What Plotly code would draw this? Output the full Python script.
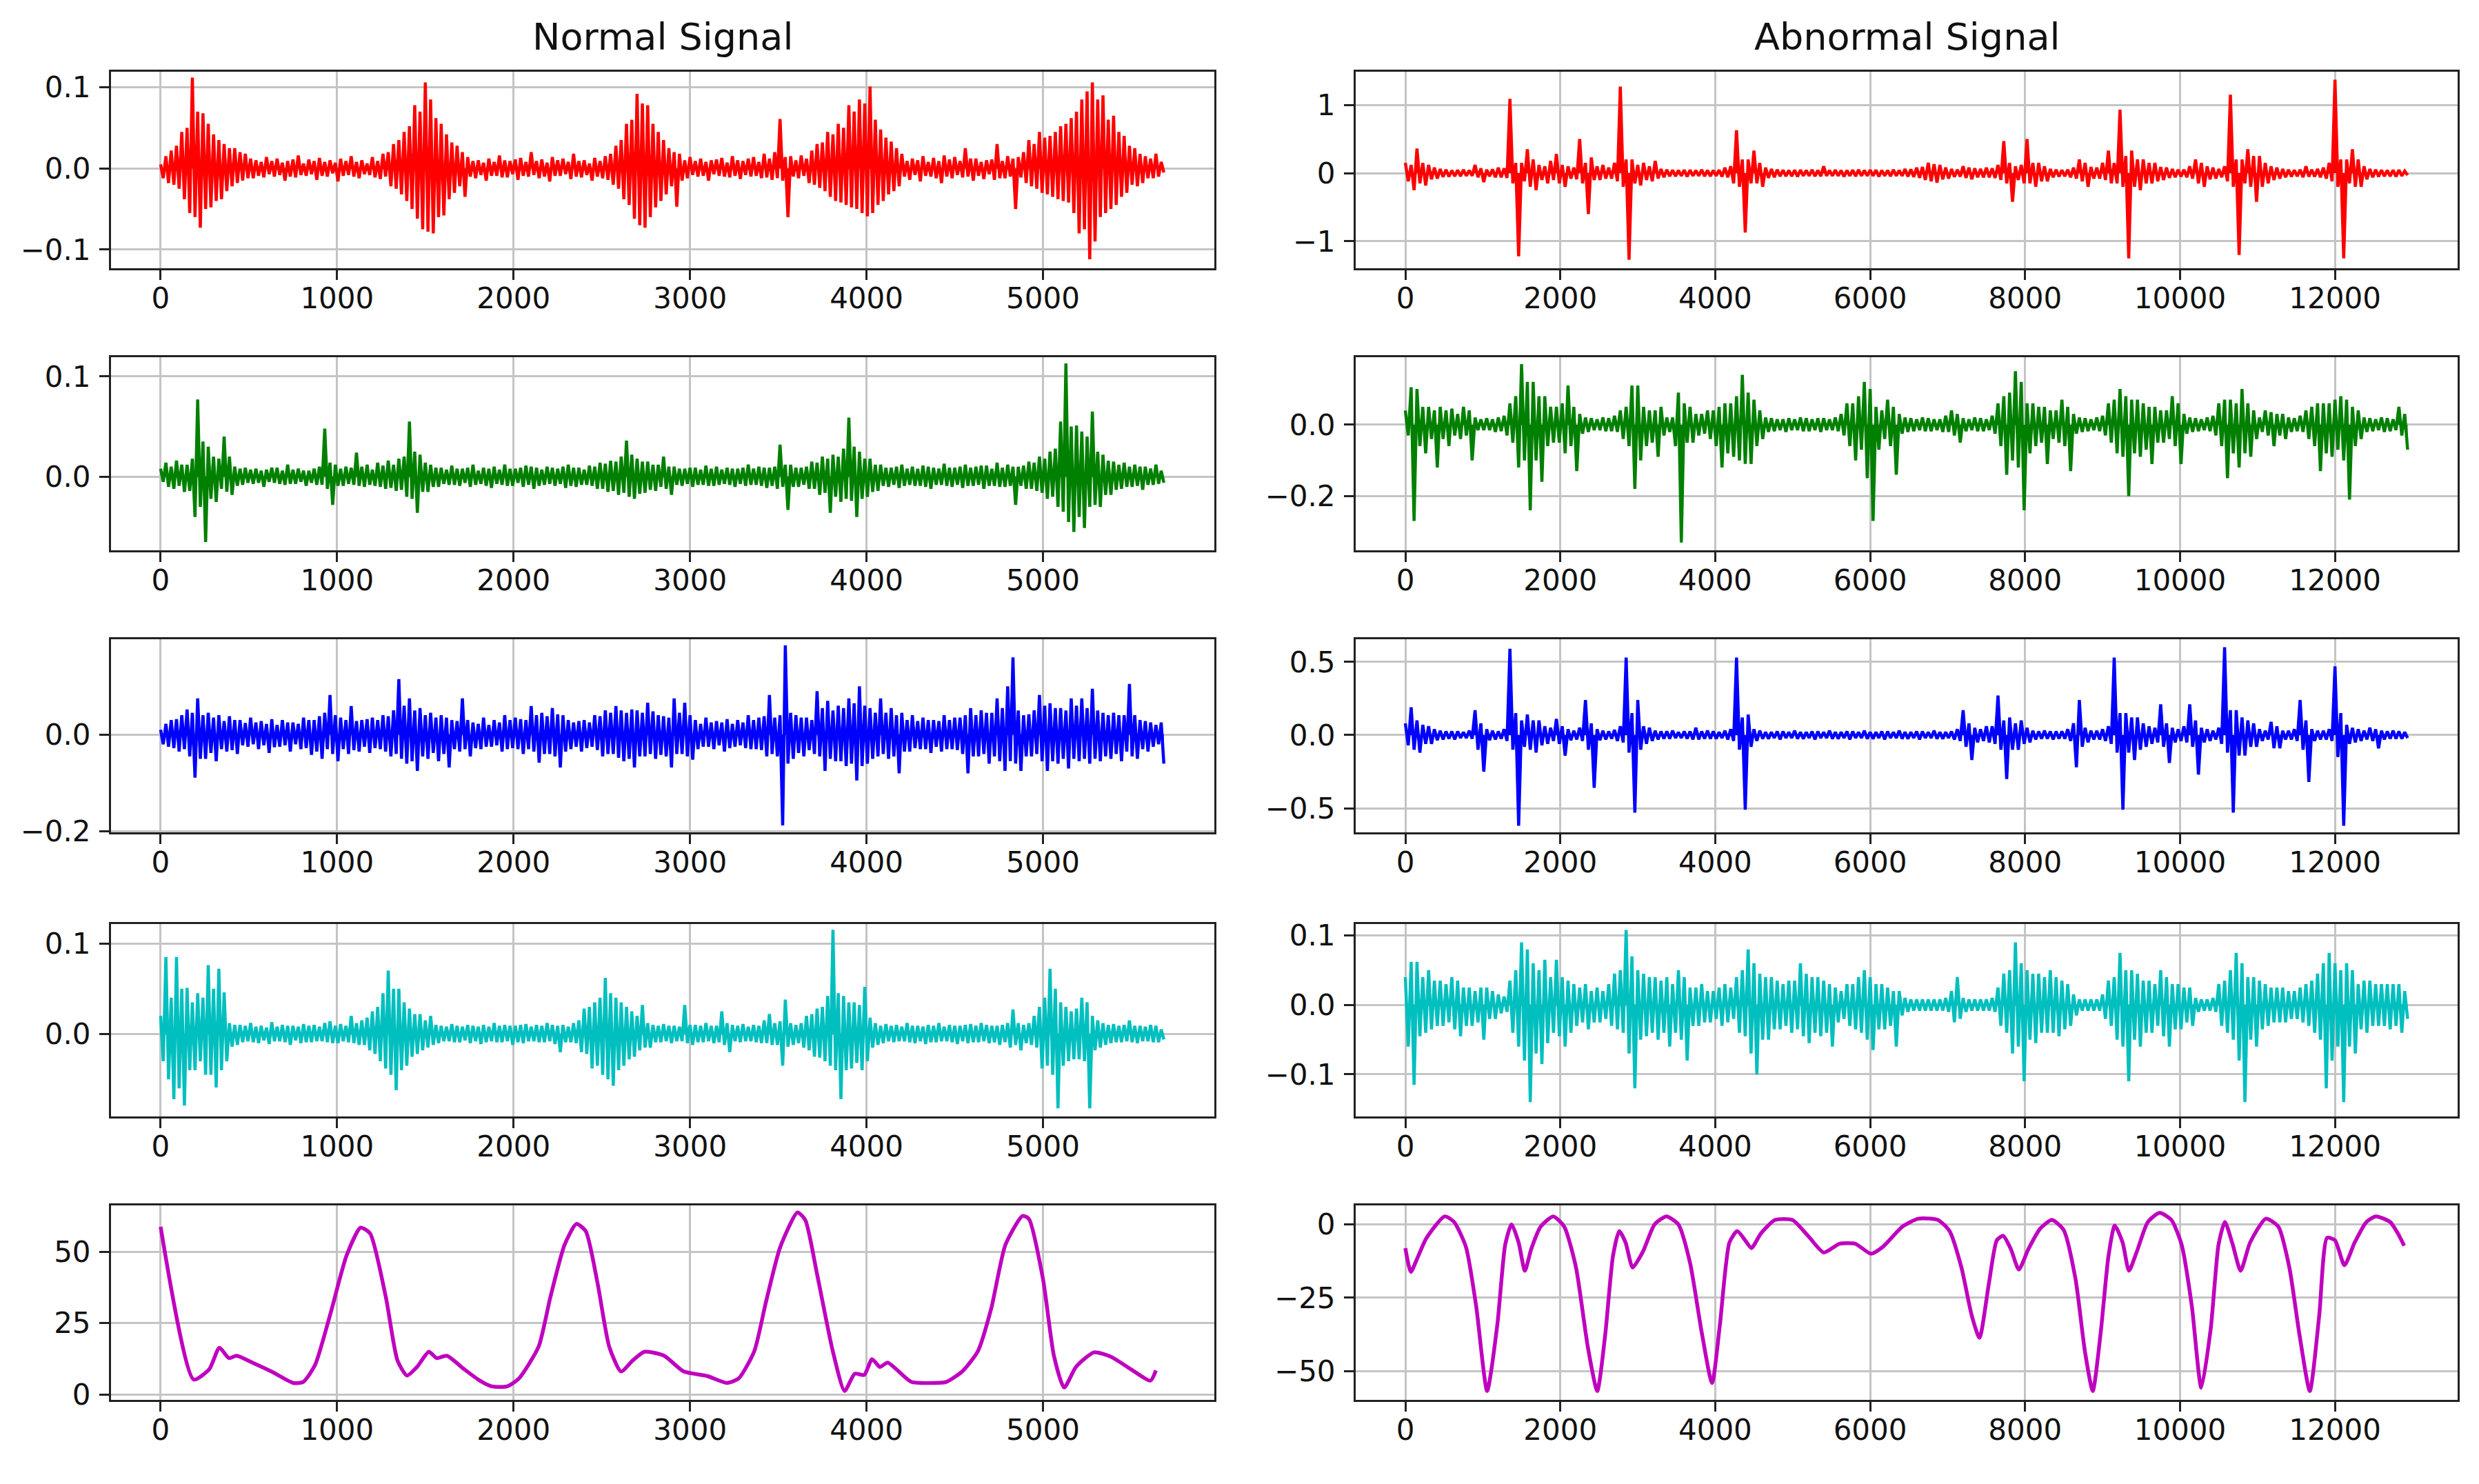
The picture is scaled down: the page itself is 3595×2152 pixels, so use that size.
import numpy as np
import plotly.graph_objects as go

W, H = 3595, 2152
PAGE_MARGIN = 8        # browser default body margin around the plot div
NORMAL_STEP = 15       # samples between stored values (normal recordings)
ABNORMAL_STEP = 37.5   # samples between stored values (abnormal recordings)

# ---------------- Normal signal channels (values in milli-units) ----------------
normal_ch1_milli = [
    5, -12, 15, -18, 22, -20, 28, -25, 45, -38, 50, -55, 112, -60, 70, -73, 68, -50, 55, -48, 42, -40, 35, -38, 30, -28, 25, -22, 25, -18, 20, -15, 18, -12,
    12, -12, 10, -9, 8, -11, 14, -7, 9, -10, 12, -8, 7, -15, 9, -10, 11, -11, 16, -8, 6, -9, 11, -7, 9, -14, 13, -9, 8, -10, 10, -6, 7, -16, 12, -9, 9, -8, 15, -10, 8, -12, 10, -7, 6, -8, 14, -11, 9, -13, 18, -10,
    20, -22, 30, -25, 35, -32, 45, -40, 52, -50, 78, -62, 70, -75, 106, -78, 85, -80, 62, -60, 55, -58, 42, -38, 32, -30, 28, -22, 20, -35,
    14, -10, 9, -12, 10, -8, 7, -15, 12, -9, 8, -9, 16, -11, 10, -11, 9, -7, 11, -14, 13, -9, 8, -10, 20, -8, 9, -12, 11, -10, 7, -16, 14, -9, 10, -9, 12, -7, 8, -13, 18, -10, 9, -11, 10, -8, 6, -15, 13, -10, 9, -12, 15, -14,
    18, -20, 28, -25, 35, -38, 55, -45, 60, -62, 92, -70, 80, -73, 78, -60, 55, -48, 45, -40, 35, -32, 25, -22, 20, -47, 18, -15,
    10, -12, 14, -8, 9, -10, 12, -9, 8, -15, 10, -7, 11, -9, 13, -10, 7, -11, 15, -9, 10, -13, 9, -8, 12, -10, 14, -9, 8, -12, 18, -11, 12, -14,
    20, -12, 61, -15, 14, -60, 15, -10, 10, -12, 16, -9, 12, -18,
    22, -20, 30, -24, 32, -28, 45, -35, 42, -40, 55, -42, 50, -45, 78, -48, 70, -50, 85, -55, 80, -59, 101, -55, 60, -45, 48, -40, 38, -32, 33, -28, 25, -22,
    18, -10, 9, -14, 12, -8, 10, -16, 15, -9, 8, -10, 13, -12, 9, -18, 16, -10, 11, -12, 14, -8, 9, -11, 25, -10, 12, -15, 12, -9, 8, -13, 10, -7, 11, -14, 30, -12, 9, -12, 15, -10, 12, -50, 14, -11,
    20, -18, 35, -22, 30, -25, 45, -30, 38, -32, 40, -35, 45, -38, 52, -40, 55, -42, 62, -55, 70, -80, 85, -75, 95, -112, 106, -90, 85, -60, 90, -55, 60, -50, 65, -45, 45, -35, 40, -30, 28, -20, 25, -22, 18, -18, 15, -12, 12, -12, 18, -10, 8, -5,
]
normal_ch2_milli = [
    8, -5, 14, -10, 10, -12, 16, -9, 12, -15, 12, -14, 18, -40, 77, -30, 35, -65, 30, -22, 20, -25, 18, -12, 40, -15, 20, -18, 10, -9, 8, -8, 9, -6,
    7, -7, 8, -6, 6, -10, 7, -5, 9, -6, 9, -7, 6, -8, 12, -7, 7, -7, 8, -5, 6, -9, 6, -6, 8, -8,
    10, -8, 48, -12, 14, -28, 12, -9, 8, -9, 10, -7, 9, -8, 24, -9, 10, -10, 12, -8, 7, -9, 14, -10, 11, -12, 16, -11, 12, -14, 18, -13, 20, -20, 55, -22, 25, -36, 22, -15, 14, -15, 12, -10,
    9, -10, 9, -7, 7, -8, 11, -8, 8, -9, 8, -6, 9, -10, 12, -8, 6, -7, 9, -9, 8, -11, 10, -7, 7, -8, 12, -9, 8, -9, 8, -6, 9, -10, 11, -8, 10, -12, 9, -9, 7, -8, 10, -7, 9, -9, 8, -7, 10, -11, 12, -9, 9, -10, 9, -8, 7, -8, 11, -9, 10, -12,
    14, -12, 13, -15, 16, -14, 15, -18, 20, -16, 36, -20, 22, -22, 18, -17, 15, -16, 15, -13, 12, -14, 12, -10, 20, -12, 10, -18,
    10, -8, 8, -9, 8, -7, 9, -10, 9, -8, 7, -8, 11, -9, 8, -9, 10, -8, 7, -7, 9, -8, 8, -10, 8, -7, 9, -9, 12, -8, 8, -8, 10, -9, 9, -11, 9, -9, 10, -12,
    32, -10, 12, -33, 12, -10, 9, -10, 9, -8, 10, -12, 15, -12, 14, -18, 20, -16, 18, -36, 22, -20, 20, -25, 28, -22, 59, -24, 30, -40, 25, -22, 18, -20, 18, -15, 12, -14,
    12, -9, 9, -10, 9, -8, 10, -11, 12, -9, 8, -8, 10, -9, 8, -9, 11, -10, 10, -12, 9, -8, 8, -8, 13, -9, 9, -10, 9, -8, 10, -11, 12, -9, 9, -9, 10, -8, 11, -12, 11, -9, 8, -9, 14, -10, 9, -10, 12, -9,
    10, -28, 10, -9, 11, -12, 15, -12, 14, -14, 20, -16, 18, -22, 25, -20, 28, -30, 55, -35, 113, -45, 50, -55, 51, -40, 45, -51, 40, -30, 65, -28, 25, -30, 22, -18, 16, -18, 15, -13, 12, -12, 14, -10, 10, -10, 12, -9, 10, -13, 10, -8, 8, -8, 12, -7, 6, -6,
]
normal_ch3_milli = [
    10, -20, 22, -25, 30, -28, 32, -35, 40, -30, 52, -45, 45, -89, 75, -50, 40, -50, 45, -38, 35, -55, 40, -30, 28, -35, 38, -32, 30, -40, 30, -22, 24, -25, 35, -20, 25, -30, 28, -22,
    22, -38, 32, -26, 20, -25, 30, -22, 25, -35, 25, -20, 22, -30, 35, -28, 30, -42, 30, -35, 38, -50, 45, -30, 82, -40, 40, -55, 35, -30, 30, -40, 59, -32, 28, -35, 30, -25, 32, -38,
    35, -28, 30, -30, 40, -35, 38, -45, 50, -40, 115, -50, 60, -60, 75, -55, 50, -75, 55, -45, 40, -50, 45, -38, 35, -55, 40, -40, 35, -68, 30, -30, 28, -35, 75, -30, 30, -45, 25, -28,
    22, -30, 35, -25, 20, -25, 30, -22, 25, -35, 40, -30, 30, -28, 35, -30, 32, -40, 30, -30, 59, -35, 40, -58, 45, -40, 38, -40, 55, -45, 42, -68, 40, -35, 30, -30, 25, -25, 28, -35,
    30, -28, 25, -25, 40, -32, 38, -45, 50, -40, 45, -40, 59, -48, 50, -55, 45, -50, 52, -68, 50, -45, 45, -45, 66, -40, 48, -50, 40, -42, 38, -45, 35, -68, 75, -40, 45, -40, 66, -45,
    40, -52, 30, -30, 22, -25, 35, -25, 25, -30, 28, -22, 25, -35, 32, -28, 22, -25, 30, -22, 25, -28, 40, -30, 30, -30, 35, -32, 38, -45, 82, -40, 35, -45, 40, -188, 185, -60, 45, -50,
    40, -38, 35, -45, 35, -32, 30, -40, 90, -45, 55, -75, 70, -50, 50, -55, 60, -55, 55, -65, 75, -60, 65, -95, 100, -65, 60, -60, 55, -50, 45, -45, 75, -40, 45, -50, 55, -45, 40, -80,
    45, -35, 30, -35, 40, -28, 28, -30, 35, -30, 30, -38, 30, -25, 28, -35, 40, -30, 30, -30, 35, -32, 35, -40, 40, -80, 55, -45, 40, -45, 50, -40, 45, -60, 45, -45, 75, -55, 55, -75,
    100, -55, 160, -60, 50, -75, 40, -45, 42, -45, 50, -40, 82, -55, 60, -75, 65, -55, 55, -60, 55, -50, 50, -70, 75, -50, 60, -55, 75, -50, 55, -60, 95, -50, 50, -55, 45, -45, 40, -50,
    45, -40, 40, -55, 40, -35, 105, -45, 40, -50, 30, -30, 28, -35, 25, -25, 20, -20, 25, -60,
]
normal_ch4_milli = [
    20, -30, 85, -50, 40, -72, 85, -60, 50, -79, 51, -40, 35, -40, 45, -30, 40, -45, 76, -45, 50, -59, 72, -40, 46, -30, 12, -14, 10, -12, 10, -9, 9, -8,
    12, -9, 8, -10, 9, -7, 7, -11, 13, -8, 8, -8, 10, -9, 9, -12, 9, -7, 8, -10, 11, -9, 9, -9, 10, -8, 8, -8, 12, -9, 14, -10, 9, -10, 11, -8, 9, -9, 20, -10, 12, -12,
    15, -12, 18, -18, 25, -22, 30, -30, 45, -38, 70, -45, 50, -62, 50, -40, 35, -35, 28, -25, 22, -22, 22, -18, 15, -15, 20, -12,
    10, -10, 9, -8, 8, -8, 11, -9, 9, -9, 8, -7, 10, -10, 9, -8, 8, -11, 10, -9, 8, -8, 12, -9, 9, -9, 10, -8, 9, -12, 9, -9, 10, -10, 11, -8, 8, -8, 10, -9, 9, -9, 12, -8, 10, -11, 9, -20, 10, -9, 8, -9, 12, -10,
    15, -20, 28, -22, 30, -38, 35, -35, 40, -45, 62, -50, 45, -57, 40, -40, 35, -35, 30, -28, 25, -25, 20, -18, 32, -15, 12, -15, 10, -9,
    9, -9, 11, -8, 9, -10, 9, -8, 8, -8,
    32, -10, 10, -12, 10, -9, 9, -9, 12, -8, 9, -10, 9, -9, 25, -12, 12, -20,
    10, -8, 9, -9, 11, -8, 8, -8, 10, -9, 9, -10,
    15, -10, 22, -12, 12, -12, 14, -35, 38, -14, 12, -12, 10, -10, 12, -15, 20, -18, 22, -25, 28, -26, 30, -30, 42, -35, 115, -40, 45, -72, 42, -40, 35, -38, 35, -32, 32, -40, 52, -30, 18, -15, 12, -12,
    9, -10, 11, -8, 9, -9, 10, -8, 8, -8, 12, -9, 9, -10, 9, -8, 8, -11, 10, -9, 9, -9, 12, -8, 8, -8, 10, -9, 9, -11, 9, -8, 10, -10, 11, -9, 9, -9, 12, -8, 10, -10, 9, -9, 9, -12, 10, -9,
    12, -15, 27, -12, 12, -18, 10, -10, 12, -12, 20, -15, 30, -38, 40, -35, 72, -45, 50, -82, 35, -35, 30, -30, 25, -28, 28, -28, 40, -30, 35, -82, 20, -18, 15, -15, 12, -12, 10, -10,
    11, -9, 9, -9, 10, -8, 15, -9, 9, -10, 9, -8, 8, -8, 10, -9, 9, -9, 5, -6,
]
# purple (derived) normal channel: sample positions and values
normal_ch5_x = [0, 187, 276, 333, 387, 431, 520, 631, 751, 809, 876, 964, 1053, 1133, 1187, 1276, 1342, 1396, 1453, 1520,
                1564, 1622, 1720, 1809, 1876, 1964, 2031, 2142, 2209, 2289, 2356, 2409, 2476, 2542, 2609, 2676, 2742, 2853, 2964, 3098,
                3209, 3276, 3364, 3431, 3511, 3609, 3653, 3720, 3809, 3876, 3933, 3987, 4031, 4076, 4120, 4253, 4387, 4453, 4542, 4631,
                4707, 4787, 4884, 4920, 5000, 5062, 5120, 5187, 5289, 5387, 5498, 5609, 5640]
normal_ch5_y = [58.7, 5.3, 8.9, 16.4, 12.8, 13.6, 11.2, 8.0, 4.1, 4.5, 10.5, 28.7, 48.5, 58.4, 56.4, 34.2, 12.0, 6.7, 9.7, 15.0,
                12.8, 13.6, 8.9, 4.9, 2.9, 2.9, 5.7, 16.8, 34.2, 52.4, 59.7, 57.2, 39.0, 16.8, 8.1, 12.0, 15.0, 13.6, 8.1, 6.5,
                4.1, 5.7, 15.2, 32.6, 51.6, 63.7, 61.1, 42.1, 15.2, 1.3, 7.3, 6.9, 12.4, 9.7, 11.2, 4.5, 4.1, 4.5, 8.1, 15.2,
                30.2, 52.4, 62.5, 61.5, 40.5, 13.6, 2.5, 9.7, 14.8, 13.2, 8.9, 4.9, 8.5]

# ---------------- Abnormal signal channels (values in milli-units) ----------------
abnormal_ch1_milli = [
    150, -120, 120, -250, 360, -150, 150, -180, 120, -90, 80, -80, 60, -55, 50, -50, 40, -45, 45, -45,
    50, -40, 40, -40, 120, -60, 70, -130, 50, -45, 55, -60, 80, -60, 70, -70, 1090, -150, 150, -1220,
    150, -120, 350, -200, 200, -250, 120, -100, 100, -150, 180, -100, 280, -150, 120, -200, 100, -80, 80, -90,
    500, -150, 150, -600, 230, -100, 100, -100, 120, -80, 80, -80, 150, -120, 1270, -200, 200, -1270, 200, -150,
    120, -180, 150, -100, 100, -120, 180, -80, 60, -60, 50, -45, 45, -45, 40, -40, 45, -50, 45, -40,
    40, -40, 50, -45, 40, -45, 40, -40, 45, -50, 80, -60, 100, -150, 630, -200, 200, -870, 200, -150,
    330, -150, 150, -200, 80, -70, 60, -60, 50, -45, 45, -45, 40, -45, 45, -50, 45, -40, 40, -40,
    50, -45, 40, -45, 100, -40, 40, -40, 45, -40, 40, -50, 40, -40, 45, -45, 50, -40, 40, -40,
    45, -40, 45, -50, 40, -40, 40, -45, 50, -40, 40, -40, 60, -50, 55, -55, 80, -70, 90, -100,
    150, -120, 130, -140, 120, -90, 80, -80, 60, -55, 50, -50, 100, -70, 80, -90, 70, -60, 60, -60,
    80, -60, 70, -70, 120, -100, 470, -150, 150, -420, 100, -100, 120, -150, 500, -150, 150, -200, 150, -120,
    100, -120, 60, -60, 50, -50, 45, -45, 50, -60, 80, -80, 200, -120, 150, -200, 90, -80, 80, -80,
    150, -100, 330, -150, 150, -150, 930, -200, 250, -1250, 330, -200, 200, -250, 200, -150, 150, -150, 150, -120,
    90, -100, 80, -70, 60, -60, 50, -50, 50, -60, 100, -80, 200, -150, 150, -200, 100, -90, 80, -80,
    60, -60, 100, -120, 1150, -200, 200, -1200, 200, -150, 350, -200, 250, -420, 250, -200, 150, -150, 100, -100,
    80, -80, 60, -60, 50, -50, 45, -45, 50, -60, 100, -50, 50, -50, 60, -60, 80, -80, 150, -120,
    1370, -200, 200, -1250, 200, -150, 350, -200, 200, -200, 100, -90, 60, -60, 50, -50, 45, -45, 40, -45,
    45, -50, 45, -40, 30, -30,
]
abnormal_ch2_milli = [
    40, -30, 105, -270, 100, -60, 50, -80, 50, -40, 40, -120, 50, -40, 40, -60, 45, -30, 30, -40,
    50, -30, 40, -100, 20, -15, 15, -15, 18, -15, 15, -20, 20, -18, 25, -30, 60, -50, 80, -120,
    170, -100, 120, -240, 120, -100, 80, -160, 80, -60, 50, -50, 50, -50, 60, -80, 110, -60, 50, -130,
    30, -25, 20, -20, 18, -15, 15, -15, 20, -18, 18, -18, 25, -20, 40, -40, 50, -60, 110, -180,
    110, -100, 50, -60, 40, -50, 40, -90, 50, -30, 20, -20, 20, -60, 90, -330, 60, -50, 50, -50,
    30, -30, 30, -25, 40, -40, 40, -60, 50, -120, 60, -80, 60, -90, 80, -100, 140, -110, 90, -110,
    70, -60, 40, -40, 20, -20, 18, -18, 15, -15, 15, -20, 18, -15, 15, -15, 20, -18, 18, -18,
    15, -15, 18, -20, 18, -15, 15, -15, 20, -18, 30, -30, 60, -60, 60, -100, 80, -70, 120, -150,
    100, -270, 50, -70, 40, -40, 70, -60, 50, -140, 30, -25, 20, -20, 18, -18, 15, -15, 20, -18,
    18, -18, 15, -15, 15, -20, 25, -20, 40, -30, 30, -50, 18, -18, 15, -15, 20, -18, 18, -18,
    15, -15, 25, -25, 60, -60, 80, -140, 90, -100, 150, -120, 120, -240, 60, -80, 60, -60, 50, -50,
    50, -110, 40, -40, 40, -50, 70, -60, 50, -130, 30, -25, 20, -20, 18, -18, 15, -15, 20, -18,
    25, -30, 60, -50, 70, -80, 100, -90, 80, -200, 70, -80, 70, -90, 60, -70, 50, -110, 50, -50,
    40, -50, 40, -40, 80, -60, 60, -110, 30, -25, 20, -20, 18, -18, 15, -15, 20, -18, 25, -30,
    60, -60, 70, -150, 70, -80, 60, -120, 100, -80, 60, -90, 40, -40, 20, -20, 40, -30, 35, -60,
    30, -30, 30, -40, 20, -20, 18, -18, 25, -20, 40, -40, 50, -60, 60, -130, 60, -80, 60, -90,
    70, -70, 80, -100, 70, -210, 50, -60, 40, -40, 20, -20, 18, -18, 15, -15, 20, -20, 18, -18,
    15, -15, 50, -30, 30, -70,
]
abnormal_ch3_milli = [
    80, -70, 190, -100, 100, -120, 70, -60, 60, -60, 40, -35, 30, -30, 25, -25, 25, -30, 25, -20,
    20, -20, 30, -25, 170, -100, 80, -250, 40, -35, 30, -30, 25, -25, 40, -40, 590, -100, 150, -620,
    100, -80, 140, -100, 100, -120, 100, -70, 60, -60, 50, -40, 110, -60, 60, -140, 40, -35, 30, -30,
    50, -40, 240, -100, 80, -360, 40, -35, 30, -30, 25, -25, 35, -40, 60, -50, 530, -120, 150, -530,
    240, -100, 60, -60, 50, -40, 30, -30, 25, -25, 25, -25, 30, -20, 20, -20, 25, -25, 25, -30,
    50, -30, 25, -25, 30, -25, 25, -25, 20, -20, 30, -30, 40, -40, 530, -100, 120, -510, 140, -80,
    40, -40, 30, -25, 20, -25, 20, -20, 25, -30, 25, -20, 20, -20, 30, -25, 20, -25, 20, -20,
    25, -30, 25, -20, 20, -20, 30, -25, 20, -25, 20, -20, 25, -30, 25, -20, 20, -20, 30, -25,
    20, -25, 20, -20, 25, -30, 25, -20, 20, -20, 30, -25, 20, -25, 20, -20, 25, -30, 25, -20,
    20, -20, 30, -25, 20, -25, 20, -20, 25, -30, 40, -40, 170, -80, 80, -170, 50, -50, 40, -40,
    60, -50, 60, -60, 270, -100, 100, -300, 120, -100, 80, -100, 100, -60, 50, -50, 30, -30, 25, -25,
    30, -25, 25, -30, 25, -25, 25, -25, 40, -40, 80, -220, 240, -80, 50, -50, 30, -30, 30, -30,
    40, -40, 60, -60, 530, -120, 150, -510, 150, -120, 120, -170, 120, -100, 80, -80, 60, -60, 50, -50,
    210, -80, 80, -190, 50, -50, 40, -40, 60, -50, 210, -80, 100, -270, 50, -50, 40, -40, 30, -30,
    50, -60, 600, -120, 170, -530, 170, -140, 120, -140, 100, -80, 80, -80, 40, -40, 30, -30, 90, -90,
    60, -90, 30, -30, 30, -30, 40, -40, 240, -100, 100, -320, 40, -40, 30, -30, 30, -30, 40, -40,
    470, -150, 150, -620, 70, -60, 50, -50, 40, -40, 30, -30, 50, -40, 40, -90, 30, -30, 25, -25,
    30, -25, 25, -25, 20, -20,
]
abnormal_ch4_milli = [
    40, -60, 62, -115, 62, -45, 40, -40, 50, -35, 35, -30, 35, -30, 30, -25, 40, -35, 35, -45,
    25, -30, 25, -30, 20, -25, 25, -50, 25, -20, 20, -20, 15, -12, 12, -10, 35, -40, 50, -60,
    90, -80, 80, -140, 60, -70, 50, -85, 65, -55, 40, -40, 65, -45, 40, -60, 35, -40, 30, -30,
    25, -25, 30, -35, 20, -25, 25, -25, 20, -20, 30, -30, 45, -35, 50, -40, 108, -70, 70, -120,
    50, -50, 45, -45, 40, -40, 40, -50, 35, -40, 40, -60, 30, -40, 50, -50, 40, -80, 25, -30,
    25, -30, 30, -25, 20, -25, 20, -20, 25, -30, 30, -25, 25, -20, 40, -40, 50, -45, 80, -70,
    60, -100, 45, -50, 40, -50, 40, -35, 35, -35, 30, -30, 35, -40, 35, -35, 60, -45, 45, -55,
    40, -40, 40, -45, 35, -40, 30, -60, 25, -25, 20, -20, 30, -30, 30, -35, 40, -40, 50, -50,
    40, -65, 30, -35, 30, -35, 25, -30, 20, -60, 20, -15, 10, -10, 8, -8, 8, -8, 8, -8,
    8, -8, 8, -8, 8, -8, 10, -10, 20, -25, 40, -20, 10, -10, 8, -8, 8, -8, 8, -8,
    8, -8, 10, -10, 25, -30, 45, -40, 50, -70, 90, -60, 60, -110, 50, -50, 45, -55, 45, -40,
    40, -40, 50, -40, 40, -45, 35, -35, 30, -30, 15, -15, 8, -8, 8, -8, 8, -8, 8, -8,
    15, -20, 35, -30, 40, -50, 75, -60, 50, -110, 50, -50, 45, -60, 35, -40, 35, -40, 30, -30,
    50, -45, 40, -60, 30, -35, 30, -35, 25, -25, 25, -30, 10, -10, 8, -8, 8, -8, 10, -10,
    30, -30, 35, -40, 50, -50, 75, -80, 60, -140, 40, -50, 40, -60, 35, -35, 30, -30, 25, -25,
    25, -25, 25, -25, 20, -20, 20, -20, 25, -25, 30, -30, 35, -40, 45, -50, 60, -120, 75, -80,
    60, -60, 50, -140, 60, -60, 50, -70, 30, -35, 35, -40, 35, -30, 30, -30, 30, -30, 30, -35,
    30, -30, 30, -40, 20, -20,
]
abnormal_ch5_x = [0, 71, 142, 274, 508, 629, 782, 914, 1056, 1188, 1289, 1371, 1462, 1543, 1624, 1746, 1909, 2051, 2203, 2355,
                  2477, 2579, 2680, 2761, 2843, 2934, 3066, 3218, 3371, 3523, 3675, 3827, 3959, 4061, 4183, 4284, 4386, 4467, 4589, 4772,
                  4995, 5198, 5401, 5604, 5807, 6010, 6162, 6416, 6619, 6873, 7025, 7178, 7310, 7411, 7533, 7635, 7716, 7817, 7919, 8041,
                  8193, 8345, 8497, 8650, 8772, 8873, 8975, 9076, 9157, 9259, 9340, 9442, 9584, 9736, 9888, 10020, 10152, 10274, 10396, 10497,
                  10579, 10680, 10782, 10904, 11107, 11269, 11411, 11543, 11675, 11797, 11898, 12000, 12122, 12254, 12406, 12528, 12711, 12812, 12893]
abnormal_ch5_y = [-8.1, -16.2, -12.3, -4.6, 2.7, 0.8, -7.7, -27.8, -56.7, -34.0, -6.9, 0.0, -6.2, -15.8, -8.5, -0.8, 2.7, -0.8, -14.7, -41.7,
                  -56.7, -37.8, -10.8, -2.3, -6.2, -14.7, -9.3, 0.0, 2.7, 0.0, -13.1, -37.0, -54.0, -34.0, -6.2, -2.3, -5.4, -8.1, -3.1, 1.5,
                  1.5, -3.9, -9.6, -6.6, -6.6, -10.0, -7.7, -0.8, 1.9, 1.5, -2.3, -14.7, -30.9, -38.6, -20.0, -5.4, -3.9, -8.5, -15.4, -8.5,
                  -1.5, 1.5, -1.9, -18.5, -43.2, -56.7, -37.0, -10.8, -0.4, -6.2, -15.8, -9.3, 0.8, 3.9, 1.5, -6.9, -27.8, -55.6, -35.5, -6.9,
                  0.8, -6.9, -15.8, -6.2, 1.9, -0.8, -14.7, -37.8, -56.7, -30.9, -4.6, -5.4, -13.9, -6.2, 0.8, 2.7, 0.8, -3.1, -7.3]

# ---------------- Axis settings (ranges / ticks) ----------------
normal_xticks = [0, 1000, 2000, 3000, 4000, 5000]
abnormal_xticks = [0, 2000, 4000, 6000, 8000, 10000, 12000]
normal_xrange = [-281, 5971]
abnormal_xrange = [-641, 13583]

row_specs = [
    # (left yrange, left ticks, left labels, right yrange, right ticks, right labels)
    ([-0.1235, 0.1195], [-0.1, 0.0, 0.1], ["\u22120.1", "0.0", "0.1"],
     [-1.40, 1.49], [-1, 0, 1], ["\u22121", "0", "1"]),
    ([-0.0736, 0.1194], [0.0, 0.1], ["0.0", "0.1"],
     [-0.353, 0.19], [-0.2, 0.0], ["\u22120.2", "0.0"]),
    ([-0.203, 0.198], [-0.2, 0.0], ["\u22120.2", "0.0"],
     [-0.667, 0.657], [-0.5, 0.0, 0.5], ["\u22120.5", "0.0", "0.5"]),
    ([-0.0913, 0.121], [0.0, 0.1], ["0.0", "0.1"],
     [-0.161, 0.116], [-0.1, 0.0, 0.1], ["\u22120.1", "0.0", "0.1"]),
    ([-1.9, 66.3], [0, 25, 50], ["0", "25", "50"],
     [-59.8, 6.55], [-50, -25, 0], ["\u221250", "\u221225", "0"]),
]

# panel edges in page pixels
row_px = [(97, 387), (517, 802), (932, 1217), (1352, 1635), (1765, 2052)]
left_px = (161, 1761)
right_px = (1966, 3564)

colors = ["#ff0000", "#008000", "#0000ff", "#00bfbf", "#bf00bf"]

normal_series = [normal_ch1_milli, normal_ch2_milli, normal_ch3_milli, normal_ch4_milli]
abnormal_series = [abnormal_ch1_milli, abnormal_ch2_milli, abnormal_ch3_milli, abnormal_ch4_milli]

FW, FH = W - 2 * PAGE_MARGIN, H - 2 * PAGE_MARGIN


def fx(p):
    return (p - PAGE_MARGIN) / FW


def fy(p):
    return 1 - (p - PAGE_MARGIN) / FH


fig = go.Figure()
FONT = "DejaVu Sans"

axis_common = dict(
    showline=True, linecolor="#222222", linewidth=3, mirror=True,
    ticks="outside", ticklen=14, tickwidth=3, tickcolor="#222222",
    showgrid=True, gridcolor="#c4c4c4", gridwidth=3, zeroline=False,
    tickfont=dict(family=FONT, size=42, color="#111111"),
    fixedrange=True,
)

layout_axes = {}
for r in range(5):
    ly, lt, ll, ry, rt, rl = row_specs[r]
    top, bot = row_px[r]
    ydom = [fy(bot), fy(top)]
    for c in range(2):
        k = r * 2 + c + 1
        xname = "x" if k == 1 else f"x{k}"
        yname = "y" if k == 1 else f"y{k}"
        if c == 0:
            if r < 4:
                vals = np.array(normal_series[r]) / 1000.0
                xs = np.arange(len(vals)) * NORMAL_STEP
            else:
                vals = normal_ch5_y
                xs = normal_ch5_x
        else:
            if r < 4:
                vals = np.array(abnormal_series[r]) / 1000.0
                xs = np.arange(len(vals)) * ABNORMAL_STEP
            else:
                vals = abnormal_ch5_y
                xs = abnormal_ch5_x
        if r < 4:
            fig.add_trace(go.Scatter(x=xs, y=vals, mode="lines",
                                     line=dict(color=colors[r], width=4.5, shape="linear"),
                                     fill="tozeroy", fillcolor=colors[r],
                                     xaxis=xname, yaxis=yname, showlegend=False,
                                     hoverinfo="skip"))
        else:
            fig.add_trace(go.Scatter(x=xs, y=vals, mode="lines",
                                     line=dict(color=colors[r], width=5.5, shape="spline", smoothing=0.6),
                                     xaxis=xname, yaxis=yname, showlegend=False,
                                     hoverinfo="skip"))
        xp = left_px if c == 0 else right_px
        xdom = [fx(xp[0]), fx(xp[1])]
        xkey = "xaxis" if k == 1 else f"xaxis{k}"
        ykey = "yaxis" if k == 1 else f"yaxis{k}"
        xt = normal_xticks if c == 0 else abnormal_xticks
        layout_axes[xkey] = dict(axis_common, domain=xdom, anchor=yname,
                                 range=normal_xrange if c == 0 else abnormal_xrange,
                                 tickvals=xt, ticktext=[str(v) for v in xt],
                                 ticklabelstandoff=-10)
        yr, yt, yl = (ly, lt, ll) if c == 0 else (ry, rt, rl)
        layout_axes[ykey] = dict(axis_common, domain=ydom, anchor=xname,
                                 range=yr, tickvals=yt, ticktext=yl,
                                 ticklabelstandoff=4)

titles = [("Normal Signal", (left_px[0] + left_px[1]) / 2),
          ("Abnormal Signal", (right_px[0] + right_px[1]) / 2)]
annotations = []
for txt, cx in titles:
    annotations.append(dict(text=txt, x=fx(cx), y=fy(80), xref="paper", yref="paper",
                            xanchor="center", yanchor="bottom", showarrow=False,
                            font=dict(family=FONT, size=54, color="#111111")))

fig.update_layout(
    width=FW, height=FH,
    margin=dict(l=0, r=0, t=0, b=0),
    paper_bgcolor="white", plot_bgcolor="white",
    font=dict(family=FONT),
    annotations=annotations,
    **layout_axes,
)

fig.write_html("out.html")
